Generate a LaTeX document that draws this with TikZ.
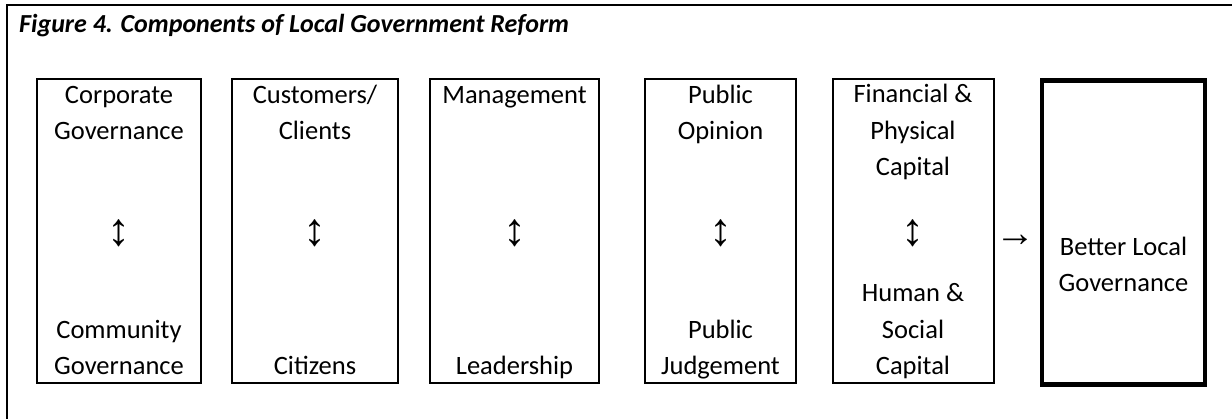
\documentclass[tikz,border=0pt]{standalone}
\usepackage{fontspec}
\setmainfont{Carlito}
\newfontfamily\arrowfont{Liberation Sans}
\usepackage{tikz}
\tikzset{>=latex}
\tikzset{
    compbox/.style={draw, line width=2pt, minimum height=304, inner sep=0},
    lbl/.style={font=\fontsize{26.5}{36.5}\selectfont, align=center, inner sep=0},
    updown/.style={font=\arrowfont\fontsize{46}{50}\selectfont, inner sep=0},
}
% one component: name, centre x, width
\newcommand{\comp}[3]{
    \node[compbox, minimum width=#3] (#1) at (#2,231.5) {};
    \node[updown] (#1arr) at (#2,233) {↕};
}

\begin{document}
\begin{tikzpicture}[x=1pt,y=-1pt]
            \useasboundingbox (0,0) rectangle (1232,419);
            \draw[line width=2pt] (7,419) -- (7,5.5) -- (1232,5.5);
            \node[font=\fontsize{26}{30}\selectfont\bfseries\itshape, anchor=base west, inner sep=0] (title) at (19,33) {Figure 4. Components of Local Government Reform};
            \comp{corp}{119}{164}
            \comp{cust}{315}{166}
            \comp{mgmt}{514.5}{169}
            \comp{opin}{720.5}{151}
            \comp{capl}{913}{161}
            % base anchor sits on the last line
            \node[lbl, anchor=base] (corptop) at (119,140) {Corporate\\Governance};
            \node[lbl, anchor=base] (corpbot) at (119,375) {Community\\Governance};
            \node[lbl, anchor=base] (custtop) at (315,140) {Customers/\\Clients};
            \node[lbl, anchor=base] (custbot) at (315,375) {Citizens};
            \node[lbl, anchor=base] (mgmttop) at (514.5,104) {Management};
            \node[lbl, anchor=base] (mgmtbot) at (514.5,375) {Leadership};
            \node[lbl, anchor=base] (opintop) at (720.5,140) {Public\\Opinion};
            \node[lbl, anchor=base] (opinbot) at (720.5,375) {Public\\Judgement};
            \node[lbl, anchor=base] (capltop) at (913,176) {Financial \&\\Physical\\Capital};
            \node[lbl, anchor=base] (caplbot) at (913,375) {Human \&\\Social\\Capital};
            \node[font=\arrowfont\fontsize{40}{44}\selectfont, inner sep=0] (toright) at (1015,241) {→};
            \node[compbox, line width=4.5pt, minimum width=163] (better) at (1123.5,232.5) {};
            \node[lbl, anchor=base] (bettertxt) at (1123.5,292) {Better Local\\Governance};
        \end{tikzpicture}
\end{document}
